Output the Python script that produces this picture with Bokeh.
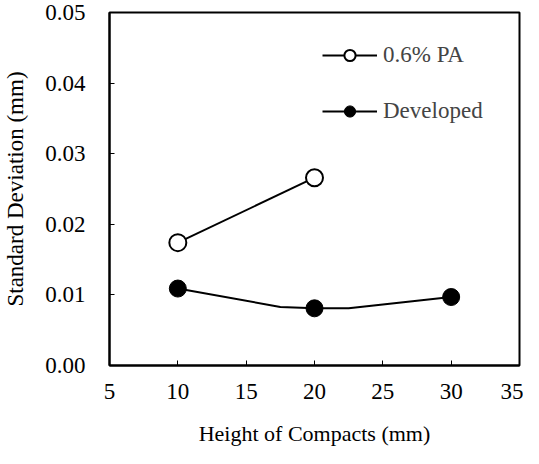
from bokeh.plotting import figure
from bokeh.models import Range1d, FixedTicker, NumeralTickFormatter, Legend, LegendItem
from bokeh.embed import file_html
from bokeh.resources import INLINE

# ---- data ----
pa_x = [10, 20]
pa_y = [0.0174, 0.0266]
dev_x = [10, 20, 30]
dev_y = [0.0109, 0.0081, 0.0097]
dev_line_x = [10, 17.5, 20, 22.5, 30]
dev_line_y = [0.0109, 0.0083, 0.0081, 0.0081, 0.0097]
x_ticks = [5, 10, 15, 20, 25, 30, 35]
y_ticks = [0.0, 0.01, 0.02, 0.03, 0.04, 0.05]
x_label = "Height of Compacts (mm)"
y_label = "Standard Deviation (mm)"
labels = ["0.6% PA", "Developed"]

FONT = "Liberation Serif"
FS = "23px"

p = figure(width=523, height=448,
           x_range=Range1d(5, 35), y_range=Range1d(0, 0.05),
           output_backend="svg", toolbar_location=None,
           min_border_left=109, min_border_top=12,
           min_border_right=4, min_border_bottom=80)

p.background_fill_color = "white"
p.border_fill_color = "white"
p.outline_line_color = "black"
p.outline_line_width = 2
p.xgrid.visible = False
p.ygrid.visible = False

for ax in (p.xaxis[0], p.yaxis[0]):
    ax.axis_line_color = "black"
    ax.axis_line_width = 2
    ax.major_tick_in = 5
    ax.major_tick_out = 0
    ax.major_tick_line_color = "black"
    ax.major_tick_line_width = 1
    ax.minor_tick_line_color = None
    ax.major_label_text_font = FONT
    ax.major_label_text_font_size = FS
    ax.major_label_text_color = "black"
    ax.axis_label_text_font = FONT
    ax.axis_label_text_font_size = "22px"
    ax.axis_label_text_font_style = "normal"
    ax.axis_label_text_color = "black"

p.xaxis.ticker = FixedTicker(ticks=x_ticks)
p.yaxis.ticker = FixedTicker(ticks=y_ticks)
p.yaxis.formatter = NumeralTickFormatter(format="0.00")
p.xaxis.axis_label = x_label
p.yaxis.axis_label = y_label
p.yaxis.axis_label_text_font_size = "23px"
p.xaxis.major_label_standoff = 18
p.xaxis.axis_label_standoff = 19
p.yaxis.major_label_standoff = 24
p.yaxis.axis_label_standoff = 14

l1 = p.line(pa_x, pa_y, line_color="black", line_width=2)
s1 = p.scatter(pa_x, pa_y, marker="circle", size=17, fill_color="white",
               line_color="black", line_width=2)
l2 = p.line(dev_line_x, dev_line_y, line_color="black", line_width=2)
s2 = p.scatter(dev_x, dev_y, marker="circle", size=17, fill_color="black",
               line_color="black", line_width=1)

legend = Legend(items=[LegendItem(label=labels[0], renderers=[l1, s1]),
                       LegendItem(label=labels[1], renderers=[l2, s2])],
                location=(213, 240))
legend.glyph_width = 55
legend.glyph_height = 28
legend.label_height = 28
legend.spacing = 28
legend.padding = 0
legend.margin = 0
legend.label_standoff = 6
legend.label_text_font = FONT
legend.label_text_font_size = FS
legend.label_text_baseline = "middle"
legend.border_line_color = None
legend.background_fill_alpha = 0
p.add_layout(legend, "center")

open("out.html", "w").write(file_html(p, INLINE))
